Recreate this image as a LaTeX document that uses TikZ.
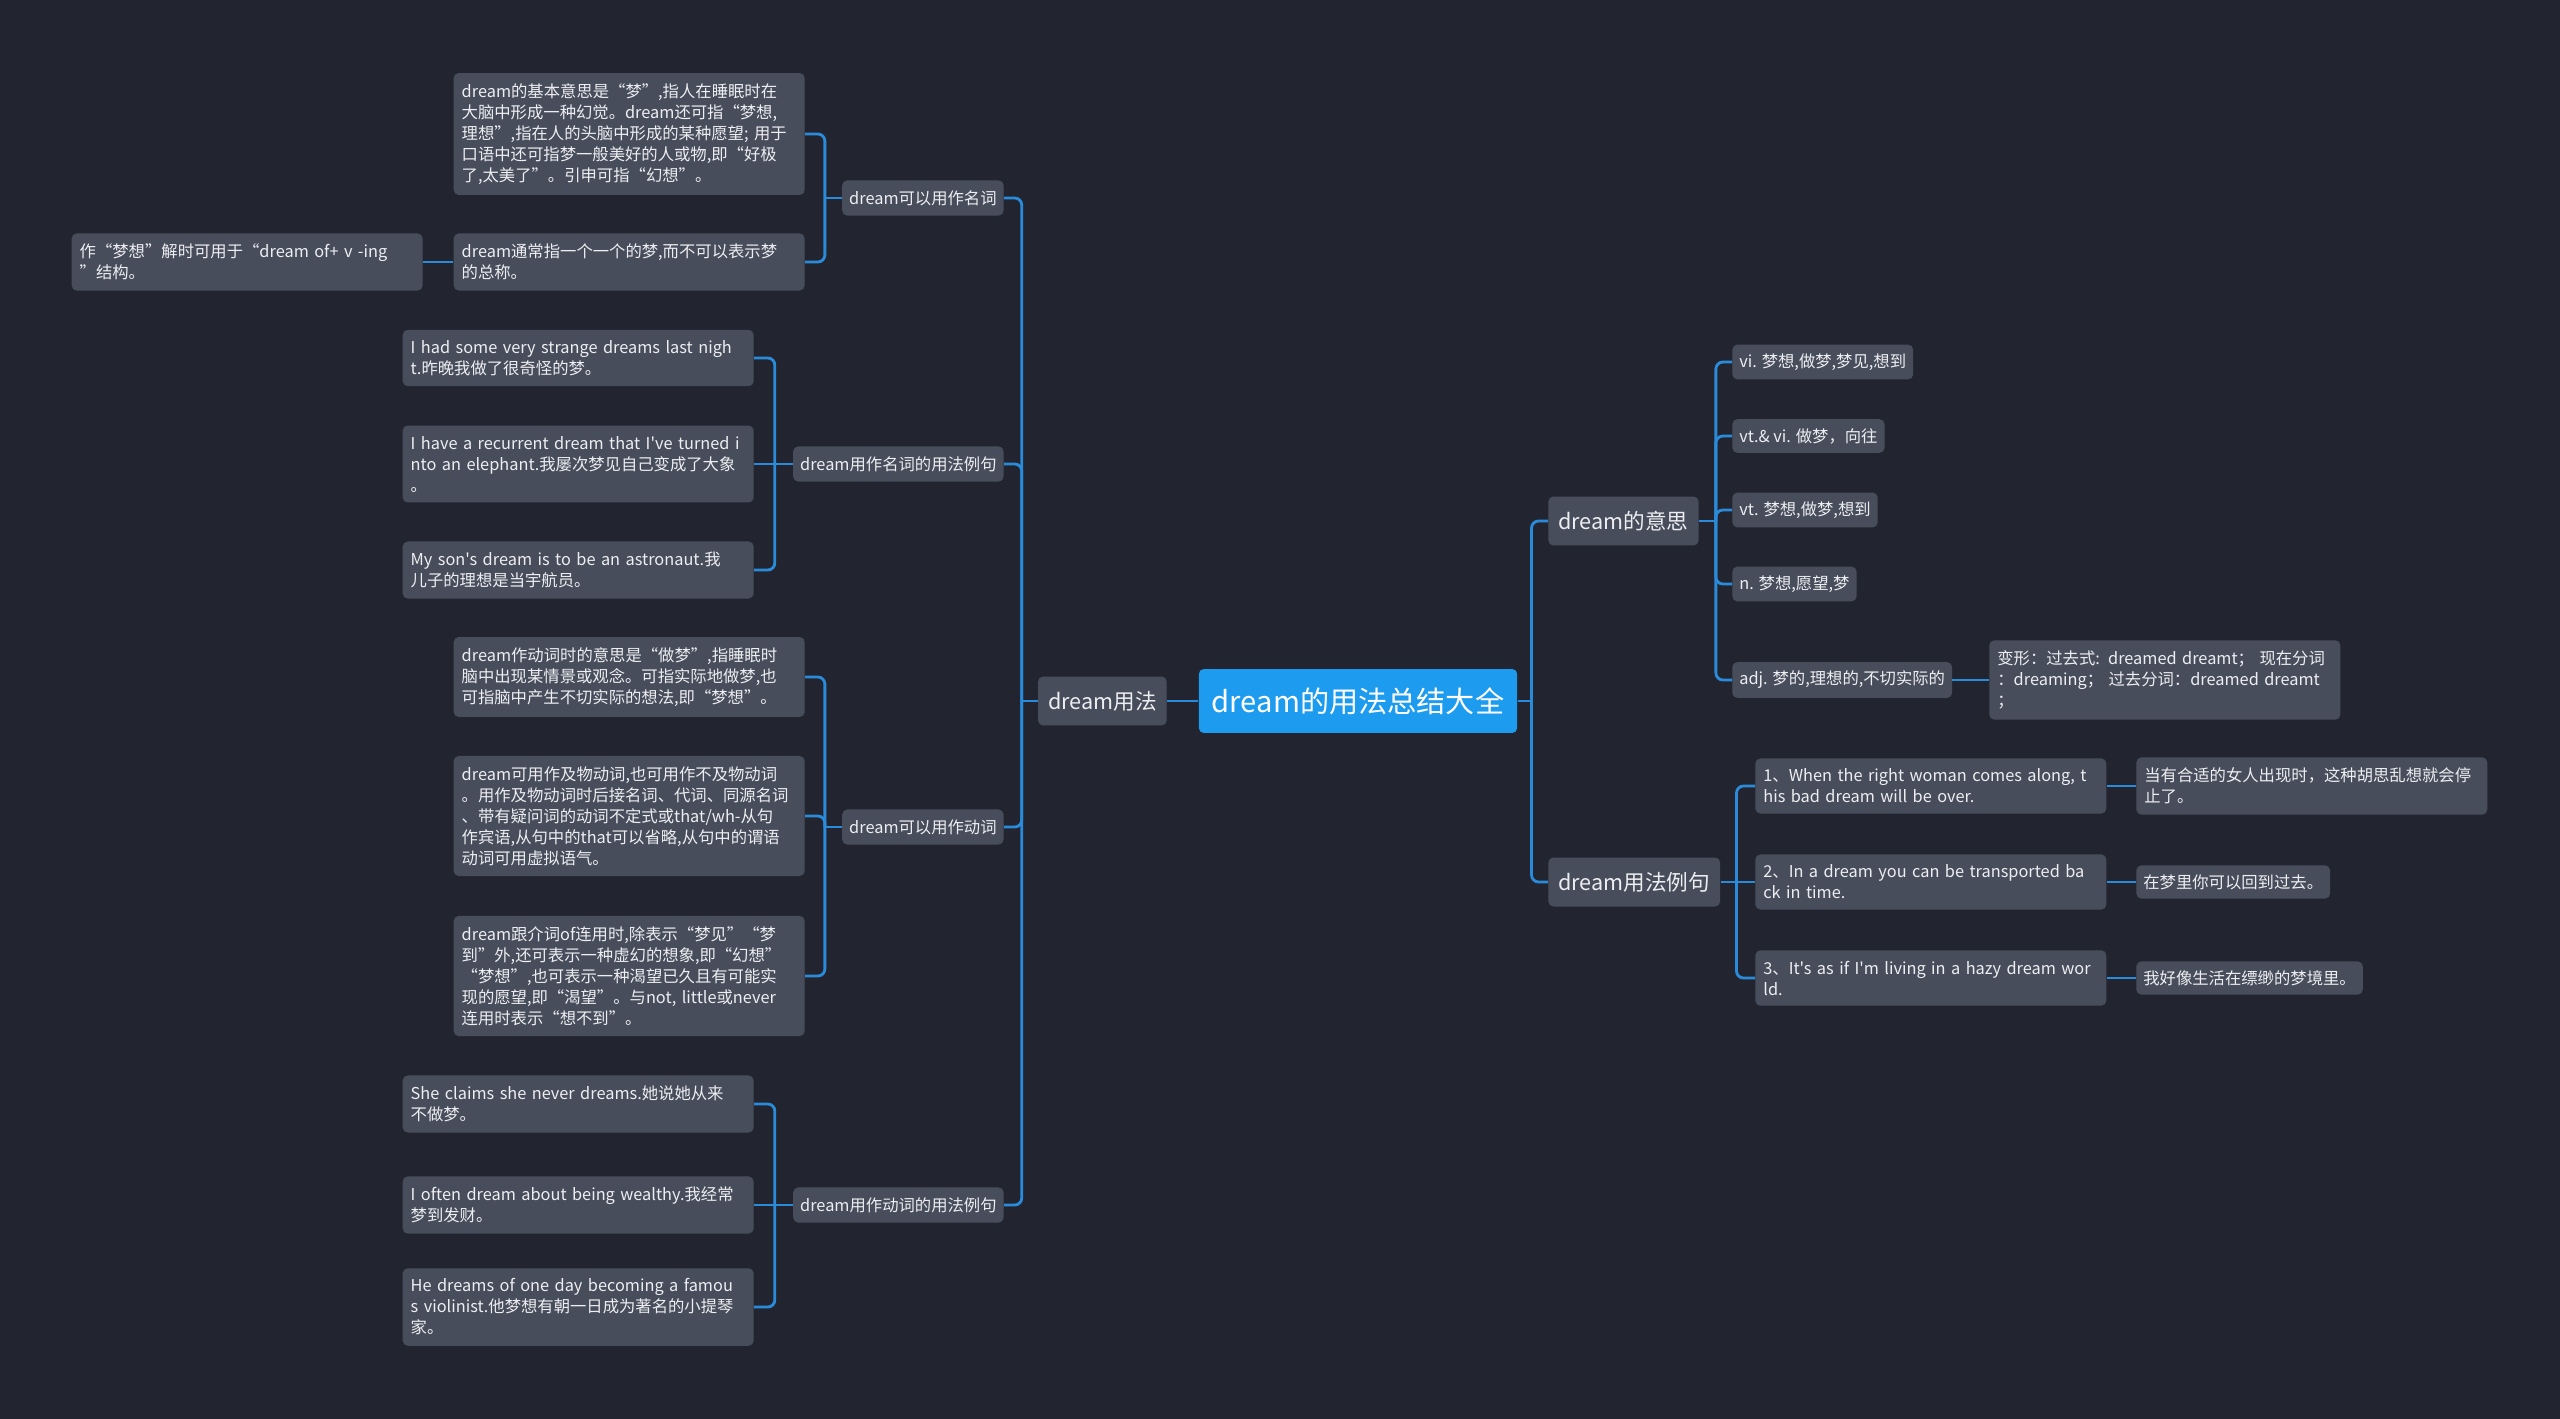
\documentclass[tikz,border=0pt]{standalone}
\usepackage{fontspec}
\setmainfont{Noto Sans CJK SC}[Ligatures=TeXOff]
\definecolor{bgc}{HTML}{22252F}
\definecolor{boxc}{HTML}{484D5C}
\definecolor{rootc}{HTML}{1C9BEF}
\definecolor{linec}{HTML}{2A8BDB}
\definecolor{txtc}{HTML}{EDEEF1}

\begin{document}
\begin{tikzpicture}[x=0.02cm, y=-0.02cm,
    rootbox/.style={fill=rootc, rounded corners=0.1cm, text=white, inner xsep=0.26cm, minimum height=1.28cm, font=\fontsize{16.6}{20}\selectfont},
    mainbox/.style={fill=boxc, rounded corners=0.1cm, text=txtc, inner xsep=0.2cm, minimum height=0.98cm, font=\fontsize{12.3}{15}\selectfont},
    subbox/.style={fill=boxc, rounded corners=0.1cm, text=txtc, inner xsep=0.14cm, inner ysep=0.2cm, font=\fontsize{9.3}{11.95}\selectfont},
    tagbox/.style={subbox, inner ysep=0.18cm},
    notebox/.style={subbox, text width=6.7cm, align=left, inner xsep=0.16cm, inner ysep=0.21cm},
    branch/.style={draw=linec, line width=1.6pt, rounded corners=4pt}]

    \fill[bgc] (0,0) rectangle (2560,1419);

    \node[rootbox] (root) at (1358,701) {dream的用法总结大全};
    \node[mainbox, anchor=east] (usage) at (1167,701) {dream用法};
    \node[mainbox, anchor=west] (meaning) at (1548,521) {dream的意思};
    \node[mainbox, anchor=west] (examples) at (1548,882) {dream用法例句};

    \node[subbox, anchor=east] (noun) at (1004,198) {dream可以用作名词};
    \node[subbox, anchor=east] (nounex) at (1004,464) {dream用作名词的用法例句};
    \node[subbox, anchor=east] (verb) at (1004,827) {dream可以用作动词};
    \node[subbox, anchor=east] (verbex) at (1004,1205) {dream用作动词的用法例句};

    \node[notebox, anchor=east] (noun1) at (805,134) {dream的基本意思是“梦”,指人在睡眠时在\\大脑中形成一种幻觉。dream还可指“梦想,\\理想”,指在人的头脑中形成的某种愿望; 用于\\口语中还可指梦一般美好的人或物,即“好极\\了,太美了”。引申可指“幻想”。};
    \node[notebox, anchor=east] (noun2) at (805,262) {dream通常指一个一个的梦,而不可以表示梦\\的总称。};
    \node[notebox, anchor=east] (noun3) at (423,262) {作“梦想”解时可用于“dream of+ v -ing\\”结构。};

    \node[notebox, anchor=east] (nex1) at (754,358) {I had some very strange dreams last nigh\\t.昨晚我做了很奇怪的梦。};
    \node[notebox, anchor=east] (nex2) at (754,464) {I have a recurrent dream that I've turned i\\nto an elephant.我屡次梦见自己变成了大象\\。};
    \node[notebox, anchor=east] (nex3) at (754,570) {My son's dream is to be an astronaut.我\\儿子的理想是当宇航员。};

    \node[notebox, anchor=east] (verb1) at (805,677) {dream作动词时的意思是“做梦”,指睡眠时\\脑中出现某情景或观念。可指实际地做梦,也\\可指脑中产生不切实际的想法,即“梦想”。};
    \node[notebox, anchor=east] (verb2) at (805,816) {dream可用作及物动词,也可用作不及物动词\\。用作及物动词时后接名词、代词、同源名词\\、带有疑问词的动词不定式或that/wh-从句\\作宾语,从句中的that可以省略,从句中的谓语\\动词可用虚拟语气。};
    \node[notebox, anchor=east] (verb3) at (805,976) {dream跟介词of连用时,除表示“梦见”“梦\\到”外,还可表示一种虚幻的想象,即“幻想”\\“梦想”,也可表示一种渴望已久且有可能实\\现的愿望,即“渴望”。与not, little或never\\连用时表示“想不到”。};

    \node[notebox, anchor=east] (vex1) at (754,1104) {She claims she never dreams.她说她从来\\不做梦。};
    \node[notebox, anchor=east] (vex2) at (754,1205) {I often dream about being wealthy.我经常\\梦到发财。};
    \node[notebox, anchor=east] (vex3) at (754,1307) {He dreams of one day becoming a famou\\s violinist.他梦想有朝一日成为著名的小提琴\\家。};

    \node[tagbox, anchor=west] (m1) at (1732,362) {vi. 梦想,做梦,梦见,想到};
    \node[tagbox, anchor=west] (m2) at (1732,436) {vt.\& vi. 做梦，向往};
    \node[tagbox, anchor=west] (m3) at (1732,510) {vt. 梦想,做梦,想到};
    \node[tagbox, anchor=west] (m4) at (1732,584) {n. 梦想,愿望,梦};
    \node[tagbox, anchor=west] (m5) at (1732,680) {adj. 梦的,理想的,不切实际的};
    \node[notebox, anchor=west] (form) at (1989,680) {变形：过去式: dreamed dreamt； 现在分词\\：dreaming； 过去分词：dreamed dreamt\\；};

    \node[notebox, anchor=west] (ex1) at (1755,786) {1、When the right woman comes along, t\\his bad dream will be over.};
    \node[notebox, anchor=west] (ex2) at (1755,882) {2、In a dream you can be transported ba\\ck in time.};
    \node[notebox, anchor=west] (ex3) at (1755,978) {3、It's as if I'm living in a hazy dream wor\\ld.};
    \node[notebox, anchor=west] (tr1) at (2136,786) {当有合适的女人出现时，这种胡思乱想就会停\\止了。};
    \node[tagbox, anchor=west] (tr2) at (2136,882) {在梦里你可以回到过去。};
    \node[tagbox, anchor=west] (tr3) at (2136,978) {我好像生活在缥缈的梦境里。};

    \draw[branch] (root.west) -- (usage.east);
    \draw[branch] (root.east) -- ++(14,0) coordinate (rootbus);
    \draw[branch] (rootbus) |- (meaning.west);
    \draw[branch] (rootbus) |- (examples.west);

    \draw[branch] (usage.west) -- ++(-16,0) coordinate (usagebus);
    \draw[branch] (usagebus) |- (noun.east);
    \draw[branch] (usagebus) |- (nounex.east);
    \draw[branch] (usagebus) |- (verb.east);
    \draw[branch] (usagebus) |- (verbex.east);

    \draw[branch] (noun.west) -- ++(-17,0) coordinate (nounbus);
    \draw[branch] (nounbus) |- (noun1.east);
    \draw[branch] (nounbus) |- (noun2.east);
    \draw[branch] (noun2.west) -- (noun3.east);

    \draw[branch] (nounex.west) -- ++(-18,0) coordinate (nounexbus);
    \draw[branch] (nounexbus) |- (nex1.east);
    \draw[branch] (nounexbus) -- (nex2.east);
    \draw[branch] (nounexbus) |- (nex3.east);

    \draw[branch] (verb.west) -- ++(-17,0) coordinate (verbbus);
    \draw[branch] (verbbus) |- (verb1.east);
    \draw[branch] (verbbus) |- (verb2.east);
    \draw[branch] (verbbus) |- (verb3.east);

    \draw[branch] (verbex.west) -- ++(-18,0) coordinate (verbexbus);
    \draw[branch] (verbexbus) |- (vex1.east);
    \draw[branch] (verbexbus) -- (vex2.east);
    \draw[branch] (verbexbus) |- (vex3.east);

    \draw[branch] (meaning.east) -- ++(17,0) coordinate (meaningbus);
    \draw[branch] (meaningbus) |- (m1.west);
    \draw[branch] (meaningbus) |- (m2.west);
    \draw[branch] (meaningbus) |- (m3.west);
    \draw[branch] (meaningbus) |- (m4.west);
    \draw[branch] (meaningbus) |- (m5.west);
    \draw[branch] (m5.east) -- (form.west);

    \draw[branch] (examples.east) -- ++(16,0) coordinate (examplesbus);
    \draw[branch] (examplesbus) |- (ex1.west);
    \draw[branch] (examplesbus) -- (ex2.west);
    \draw[branch] (examplesbus) |- (ex3.west);
    \draw[branch] (ex1.east) -- (tr1.west);
    \draw[branch] (ex2.east) -- (tr2.west);
    \draw[branch] (ex3.east) -- (tr3.west);
\end{tikzpicture}
\end{document}
